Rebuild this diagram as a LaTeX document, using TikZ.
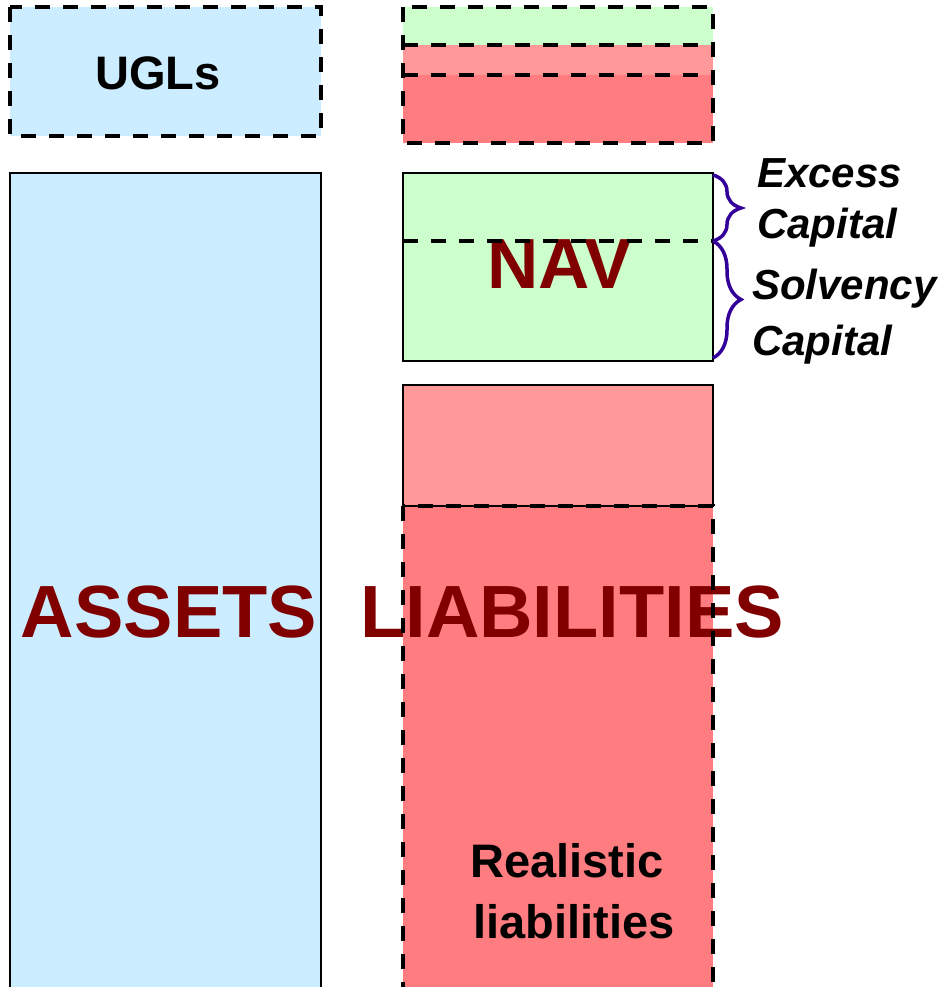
\documentclass[tikz,border=0pt]{standalone}
\usepackage{fontspec}
\setmainfont{Liberation Sans}
\usetikzlibrary{decorations.pathreplacing}
\definecolor{lblue}{HTML}{CCECFF}
\definecolor{lgreen}{HTML}{CCFFCC}
\definecolor{lpink}{HTML}{FF9999}
\definecolor{lred}{HTML}{FF7C80}
\definecolor{dred}{HTML}{800000}
\definecolor{bracecol}{HTML}{330099}
\tikzset{
  dashbox/.style={draw=black, line width=4pt, dash pattern=on 15pt off 13pt},
  solidbox/.style={draw=black, line width=1.3pt},
  bigtxt/.style={font=\fontsize{74}{80}\selectfont\bfseries, text=dred, inner sep=0pt},
  lbl/.style={font=\fontsize{47}{60}\selectfont\bfseries, inner sep=0pt},
  captxt/.style={font=\fontsize{42}{50}\selectfont\bfseries\itshape, inner sep=0pt, anchor=base west},
  bracestyle/.style={draw=bracecol, line width=3.5pt, decorate, decoration={brace, amplitude=28pt, aspect=0.5}}
}
\begin{document}
\begin{tikzpicture}[x=1pt,y=-1pt]
\useasboundingbox (0,0) rectangle (940,987);
% fills
\fill[lblue] (10,7) rectangle (321,136);
\fill[lblue] (10,173) rectangle (321,995);
\fill[lgreen] (403,7) rectangle (713,45);
\fill[lpink] (403,45) rectangle (713,75);
\fill[lred] (403,75) rectangle (713,143);
\fill[lgreen] (403,173) rectangle (713,361);
\fill[lpink] (403,385) rectangle (713,506);
\fill[lred] (403,506) rectangle (713,995);
% solid borders
\draw[solidbox] (10,173) rectangle (321,995);
\draw[solidbox] (403,173) rectangle (713,361);
\draw[solidbox] (403,385) rectangle (713,506);
% texts
\node[lbl, anchor=base] (ugls) at (158,90) {UGLs};
\node[bigtxt, anchor=base] (assets) at (169,637) {ASSETS};
\node[bigtxt, anchor=base] (liab) at (572,637) {LIABILITIES};
\node[bigtxt, font=\fontsize{71}{80}\selectfont\bfseries, anchor=base] (nav) at (560,288) {NAV};
\node[lbl, anchor=base] (real1) at (567,877) {Realistic};
\node[lbl, anchor=base] (real2) at (574,938) {liabilities};
\node[captxt] (exc1) at (757,187) {Excess};
\node[captxt] (exc2) at (757,238) {Capital};
\node[captxt] (sol1) at (752,299) {Solvency};
\node[captxt] (sol2) at (752,355) {Capital};
% dashed borders
\draw[dashbox] (10,7) rectangle (321,136);
\draw[dashbox] (403,7) rectangle (713,143);
\draw[dashbox] (403,45) -- (713,45);
\draw[dashbox] (403,75) -- (713,75);
\draw[dashbox] (403,241) -- (713,241);
\draw[dashbox] (403,506) rectangle (713,995);
% braces
\coordinate (b1) at (713,175);
\coordinate (b2) at (713,241);
\coordinate (b3) at (713,358);
\draw[bracestyle] (b1) -- (b2);
\draw[bracestyle] (b2) -- (b3);
\end{tikzpicture}
\end{document}
